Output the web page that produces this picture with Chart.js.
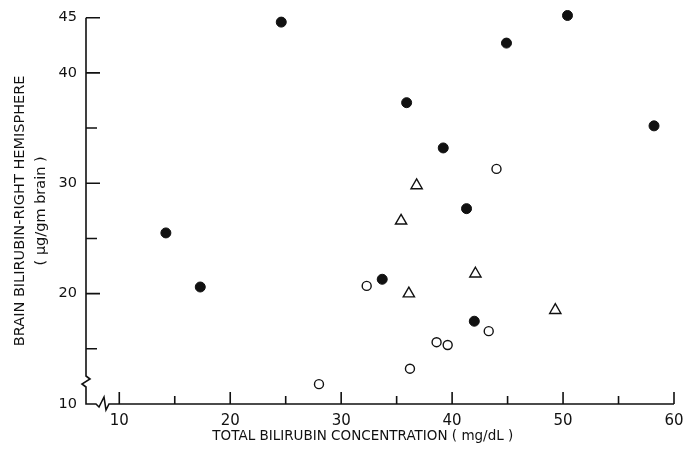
<!DOCTYPE html>
<html>
<head>
<meta charset="utf-8">
<script src="https://cdn.jsdelivr.net/npm/chart.js@4"></script>
<style>
  body { margin: 0; background: #fff; }
</style>
</head>
<body>
<canvas id="bilirrubina" width="699" height="458"></canvas>
<script>
// valores
const cheioX = [14.2, 17.3, 24.6, 50.4, 44.9, 35.9, 58.2, 39.2, 41.3, 33.7, 42.0];
const cheioY = [25.5, 20.6, 44.6, 45.2, 42.7, 37.3, 35.2, 33.2, 27.7, 21.3, 17.5];

const abertoX = [44.0, 32.3, 43.3, 38.6, 39.6, 36.2, 28.0];
const abertoY = [31.3, 20.7, 16.6, 15.6, 15.35, 13.2, 11.8];

const trianguloX = [36.8, 35.4, 42.1, 36.1, 49.3];
const trianguloY = [29.8, 26.6, 21.8, 20.0, 18.5];

const ticksX = [10, 15, 20, 25, 30, 35, 40, 45, 50, 55, 60];
const rotulosX = [10, 20, 30, 40, 50, 60];
const ticksY = [15, 20, 25, 30, 35, 40, 45];
const rotulosY = [10, 20, 30, 40, 45];

// espacos no fim so para deslocar o titulo um pouco para a esquerda, como no original
const tituloX = "TOTAL BILIRUBIN CONCENTRATION ( mg/dL )" + "\u00a0".repeat(8);
const tituloY = ["BRAIN BILIRUBIN-RIGHT HEMISPHERE", "( μg/gm brain )"];

const preto = "#111";
const fonte = "'DejaVu Sans', sans-serif";

function juntar(xs, ys) {
  return xs.map((x, i) => ({ x: x, y: ys[i] }));
}

// eixos com quebra e marcas para dentro
const eixosPlugin = {
  id: "eixos",
  afterDraw(chart) {
    const ctx = chart.ctx;
    const area = chart.chartArea;
    const escX = chart.scales.x;
    const escY = chart.scales.y;
    const esq = area.left;
    const base = area.bottom;

    ctx.save();
    ctx.strokeStyle = preto;
    ctx.lineWidth = 1.6;

    ctx.beginPath();
    ctx.moveTo(esq, area.top);
    ctx.lineTo(esq, base - 28);
    ctx.lineTo(esq + 4, base - 25);
    ctx.lineTo(esq - 4, base - 20);
    ctx.lineTo(esq, base - 17);
    ctx.lineTo(esq, base);
    ctx.lineTo(esq + 10, base);
    ctx.lineTo(esq + 13, base + 3);
    ctx.lineTo(esq + 18, base - 7);
    ctx.lineTo(esq + 20, base + 6);
    ctx.lineTo(esq + 23, base);
    ctx.lineTo(area.right, base);
    ctx.stroke();

    ctx.beginPath();
    ticksX.forEach((v) => {
      const px = escX.getPixelForValue(v);
      const tam = rotulosX.includes(v) ? 12 : 8;
      ctx.moveTo(px, base);
      ctx.lineTo(px, base - tam);
    });
    ticksY.forEach((v) => {
      const py = escY.getPixelForValue(v);
      const tam = rotulosY.includes(v) ? 14 : 11;
      ctx.moveTo(esq, py);
      ctx.lineTo(esq + tam, py);
    });
    ctx.stroke();
    ctx.restore();
  },
};

const grafico = document.getElementById("bilirrubina").getContext("2d");

new Chart(grafico, {
  type: "scatter",
  data: {
    datasets: [
      {
        data: juntar(cheioX, cheioY),
        pointStyle: "circle",
        pointRadius: 5,
        backgroundColor: preto,
        borderColor: preto,
        borderWidth: 1,
        clip: false,
      },
      {
        data: juntar(abertoX, abertoY),
        pointStyle: "circle",
        pointRadius: 4.5,
        backgroundColor: "#fff",
        borderColor: preto,
        borderWidth: 1.4,
        clip: false,
      },
      {
        data: juntar(trianguloX, trianguloY),
        pointStyle: "triangle",
        pointRadius: 6.5,
        backgroundColor: "#fff",
        borderColor: preto,
        borderWidth: 1.4,
        clip: false,
      },
    ],
  },
  options: {
    responsive: false,
    animation: false,
    layout: { padding: { top: 17, right: 25, left: 0, bottom: 0 } },
    plugins: {
      legend: { display: false },
      tooltip: { enabled: false },
    },
    scales: {
      x: {
        type: "linear",
        min: 7,
        max: 60,
        afterBuildTicks: (escala) => {
          escala.ticks = ticksX.map((v) => ({ value: v }));
        },
        afterFit: (escala) => {
          escala.height = 54;
        },
        grid: { display: false, drawTicks: false },
        border: { display: false },
        ticks: {
          color: preto,
          padding: 8,
          maxRotation: 0,
          autoSkip: false,
          font: { family: fonte, size: 15 },
          callback: (v) => (rotulosX.includes(v) ? String(v) : ""),
        },
        title: {
          display: true,
          text: tituloX,
          color: preto,
          padding: { top: 0, bottom: 13 },
          font: { family: fonte, size: 13.5 },
        },
      },
      y: {
        type: "linear",
        min: 10,
        max: 45,
        afterBuildTicks: (escala) => {
          escala.ticks = [10].concat(ticksY).map((v) => ({ value: v }));
        },
        afterFit: (escala) => {
          escala.width = 86;
        },
        grid: { display: false, drawTicks: false },
        border: { display: false },
        ticks: {
          color: preto,
          padding: 9,
          autoSkip: false,
          font: { family: fonte, size: 14.5 },
          callback: (v) => (rotulosY.includes(v) ? String(v) : ""),
        },
        title: {
          display: true,
          text: tituloY,
          color: preto,
          padding: { top: 10, bottom: 0 },
          font: { family: fonte, size: 14.5, lineHeight: 1.45 },
        },
      },
    },
  },
  plugins: [eixosPlugin],
});
</script>
</body>
</html>
